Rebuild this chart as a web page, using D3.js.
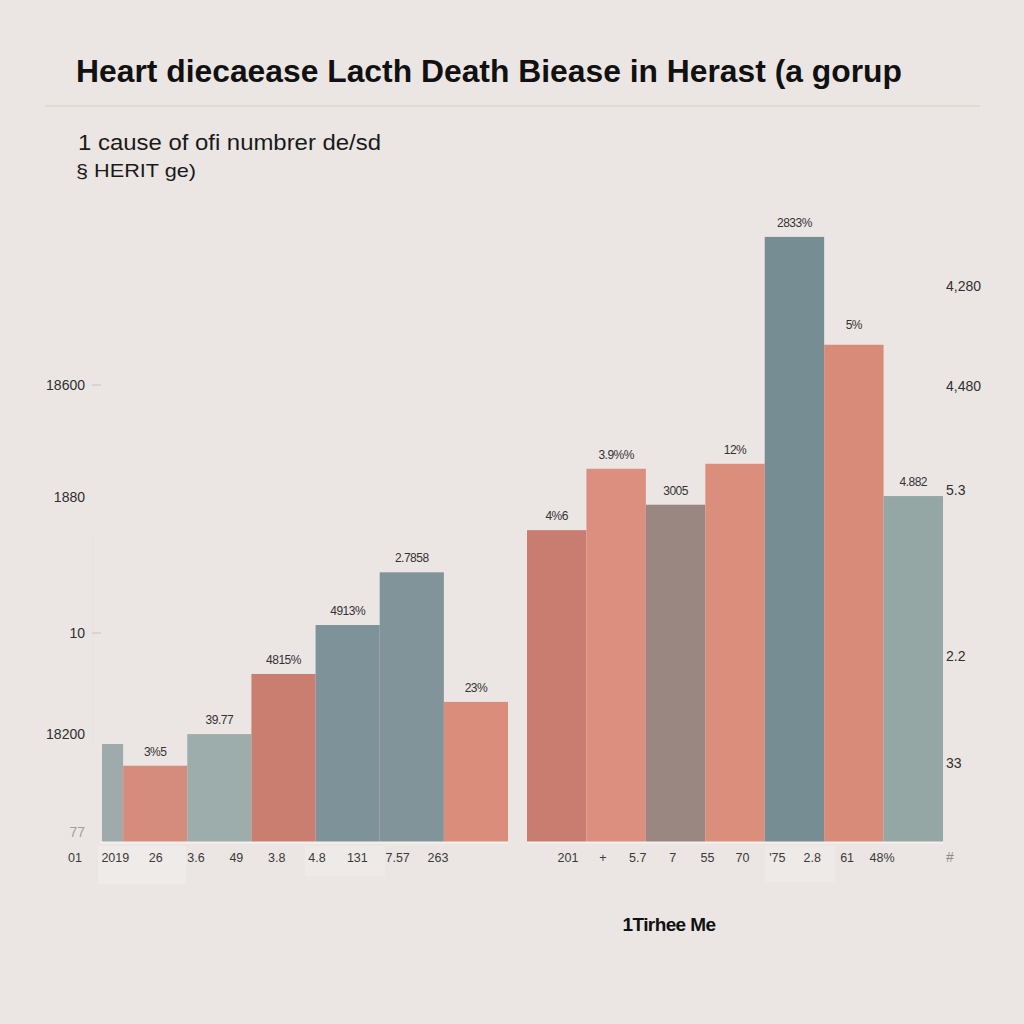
<!DOCTYPE html>
<html><head><meta charset="utf-8">
<script src="https://cdn.jsdelivr.net/npm/d3@7"></script>
<style>html,body{margin:0;padding:0;background:#ebe6e3;}svg{display:block;}</style>
</head><body>
<svg id="c" width="1024" height="1024"></svg>
<script>
// ---- data ----
const leftCats = ["a1","a2","a3","a4","a5","a6","a7"];
const leftValues = [15.8, 12.3, 17.4, 27.1, 35.0, 43.5, 22.6];
const leftLabels = ["", "3%5", "39.77", "4815%", "4913%", "2.7858", "23%"];
const leftColors = ["#9eaaab","#d68c7c","#9cadac","#c97e70","#7e9399","#809499","#db8d7b"];

const rightCats = ["b1","b2","b3","b4","b5","b6","b7"];
const rightValues = [50.3, 60.2, 54.4, 61.0, 97.6, 80.2, 55.8];
const rightLabels = ["4%6", "3.9%%", "3005", "12%", "2833%", "5%", "4.882"];
const rightColors = ["#c97d70","#dc8f7e","#9b8782","#dc8e7c","#778d94","#d98b79","#95a7a5"];

const leftTickLabels = ["01","2019","26","3.6","49","3.8","4.8","131","7.57","263"];
const rightTickLabels = ["201","+","5.7","7","55","70","'75","2.8","61","48%"];

const leftAxisLabels = ["18600","1880","10","18200","77"];
const leftAxisLevels = [73.7, 55.6, 33.7, 17.4, 1.6];
const rightAxisLabels = ["4,280","4,480","5.3","2.2","33","#"];
const rightAxisLevels = [89.7, 73.5, 56.8, 30.0, 12.7, -2.4];

const titleText = "Heart diecaease Lacth Death  Biease in Herast (a gorup";
const subtitle1 = "1 cause of ofi numbrer de/sd";
const subtitle2 = "§ HERIT ge)";
const xTitle = "1Tirhee Me";

// ---- drawing ----
const svg = d3.select("#c");
svg.append("rect").attr("width",1024).attr("height",1024).attr("fill","#ebe6e3");

const y = d3.scaleLinear().domain([0,100]).range([842,222]);
const xL = d3.scaleBand().domain(leftCats).range([59,508]).padding(0);
const xR = d3.scaleBand().domain(rightCats).range([527,943]).padding(0);

// title
svg.append("text").attr("x",76).attr("y",82)
  .attr("font-family","Liberation Sans Narrow, Liberation Sans, Arial, sans-serif").attr("font-weight","bold")
  .attr("font-size",32).attr("fill","#111")
  .attr("textLength",826).attr("lengthAdjust","spacingAndGlyphs")
  .text(titleText);
svg.append("line").attr("x1",45).attr("x2",980).attr("y1",106).attr("y2",106)
  .attr("stroke","#ddd6d2").attr("stroke-width",1.5);

svg.append("text").attr("x",78).attr("y",150)
  .attr("font-family","Liberation Sans, Arial, sans-serif").attr("font-size",22).attr("fill","#1a1a1a")
  .attr("textLength",303).attr("lengthAdjust","spacingAndGlyphs")
  .text(subtitle1);
svg.append("text").attr("x",76).attr("y",177)
  .attr("font-family","Liberation Sans, Arial, sans-serif").attr("font-size",19).attr("fill","#1a1a1a")
  .attr("textLength",120).attr("lengthAdjust","spacingAndGlyphs")
  .text(subtitle2);

// faint artifacts under axis
const faint = svg.append("g").attr("opacity",0.35);
faint.append("rect").attr("x",98).attr("y",846).attr("width",88).attr("height",38).attr("fill","#f6f3f1");
faint.append("rect").attr("x",305).attr("y",846).attr("width",80).attr("height",30).attr("fill","#f3f0ee");
faint.append("rect").attr("x",765).attr("y",846).attr("width",70).attr("height",36).attr("fill","#f3f0ee");
faint.append("line").attr("x1",93).attr("x2",93).attr("y1",535).attr("y2",745).attr("stroke","#e2dcd8");

// clip for left group (first bar partially hidden)
svg.append("clipPath").attr("id","clipL").append("rect")
  .attr("x",102).attr("y",0).attr("width",420).attr("height",1024);

const gL = svg.append("g").attr("clip-path","url(#clipL)");
gL.selectAll("rect").data(leftValues).join("rect")
  .attr("x",(d,i)=>xL(leftCats[i])).attr("width",xL.bandwidth())
  .attr("y",d=>y(d)).attr("height",d=>y(0)-y(d))
  .attr("fill",(d,i)=>leftColors[i]);

svg.append("g").selectAll("rect").data(rightValues).join("rect")
  .attr("x",(d,i)=>xR(rightCats[i])).attr("width",xR.bandwidth())
  .attr("y",d=>y(d)).attr("height",d=>y(0)-y(d))
  .attr("fill",(d,i)=>rightColors[i]);

// baselines
svg.append("line").attr("x1",100).attr("x2",508).attr("y1",842.5).attr("y2",842.5).attr("stroke","#f4f0ee").attr("stroke-width",2);
svg.append("line").attr("x1",527).attr("x2",943).attr("y1",842.5).attr("y2",842.5).attr("stroke","#f4f0ee").attr("stroke-width",2);

// value labels
const lblFont = "Liberation Sans, Arial, sans-serif";
svg.append("g").selectAll("text").data(leftValues).join("text")
  .attr("x",(d,i)=>xL(leftCats[i])+xL.bandwidth()/2).attr("y",d=>y(d)-10)
  .attr("text-anchor","middle").attr("font-family",lblFont).attr("font-size",12).attr("fill","#333")
  .attr("letter-spacing",-0.5)
  .text((d,i)=>leftLabels[i]);
svg.append("g").selectAll("text").data(rightValues).join("text")
  .attr("x",(d,i)=>xR(rightCats[i])+xR.bandwidth()/2).attr("y",(d,i)=>y(d)-(i===5?16:10))
  .attr("text-anchor","middle").attr("font-family",lblFont).attr("font-size",12).attr("fill","#333")
  .attr("letter-spacing",-0.5)
  .text((d,i)=>rightLabels[i]);

// x tick labels
const tL = d3.scalePoint().domain(d3.range(leftTickLabels.length)).range([75,438]);
const tR = d3.scalePoint().domain(d3.range(rightTickLabels.length)).range([568,882]);
svg.append("g").selectAll("text").data(leftTickLabels).join("text")
  .attr("x",(d,i)=>tL(i)).attr("y",862).attr("text-anchor","middle")
  .attr("font-family",lblFont).attr("font-size",12.5).attr("fill","#3a3a3a").text(d=>d);
svg.append("g").selectAll("text").data(rightTickLabels).join("text")
  .attr("x",(d,i)=>tR(i)).attr("y",862).attr("text-anchor","middle")
  .attr("font-family",lblFont).attr("font-size",12.5).attr("fill","#3a3a3a").text(d=>d);

// left axis labels
const gLA = svg.append("g");
gLA.selectAll("text").data(leftAxisLabels).join("text")
  .attr("x",85).attr("y",(d,i)=>y(leftAxisLevels[i])+5).attr("text-anchor","end")
  .attr("font-family",lblFont).attr("font-size",14).attr("fill","#2f2f2f")
  .attr("opacity",(d,i)=>i===4?0.4:1)
  .text(d=>d);
gLA.selectAll("line").data([0,2]).join("line")
  .attr("x1",92).attr("x2",101).attr("y1",i=>y(leftAxisLevels[i])).attr("y2",i=>y(leftAxisLevels[i]))
  .attr("stroke","#c9c3bf");

// right axis labels
svg.append("g").selectAll("text").data(rightAxisLabels).join("text")
  .attr("x",946).attr("y",(d,i)=>y(rightAxisLevels[i])+5).attr("text-anchor","start")
  .attr("font-family",lblFont).attr("font-size",14).attr("fill","#2f2f2f")
  .attr("opacity",(d,i)=>i===5?0.5:1)
  .text(d=>d);

// x title
svg.append("text").attr("x",669).attr("y",931).attr("text-anchor","middle")
  .attr("font-family","Liberation Sans, Arial, sans-serif").attr("font-weight","bold")
  .attr("font-size",19).attr("fill","#111").attr("letter-spacing",-0.6)
  .text(xTitle);
</script>
</body></html>
